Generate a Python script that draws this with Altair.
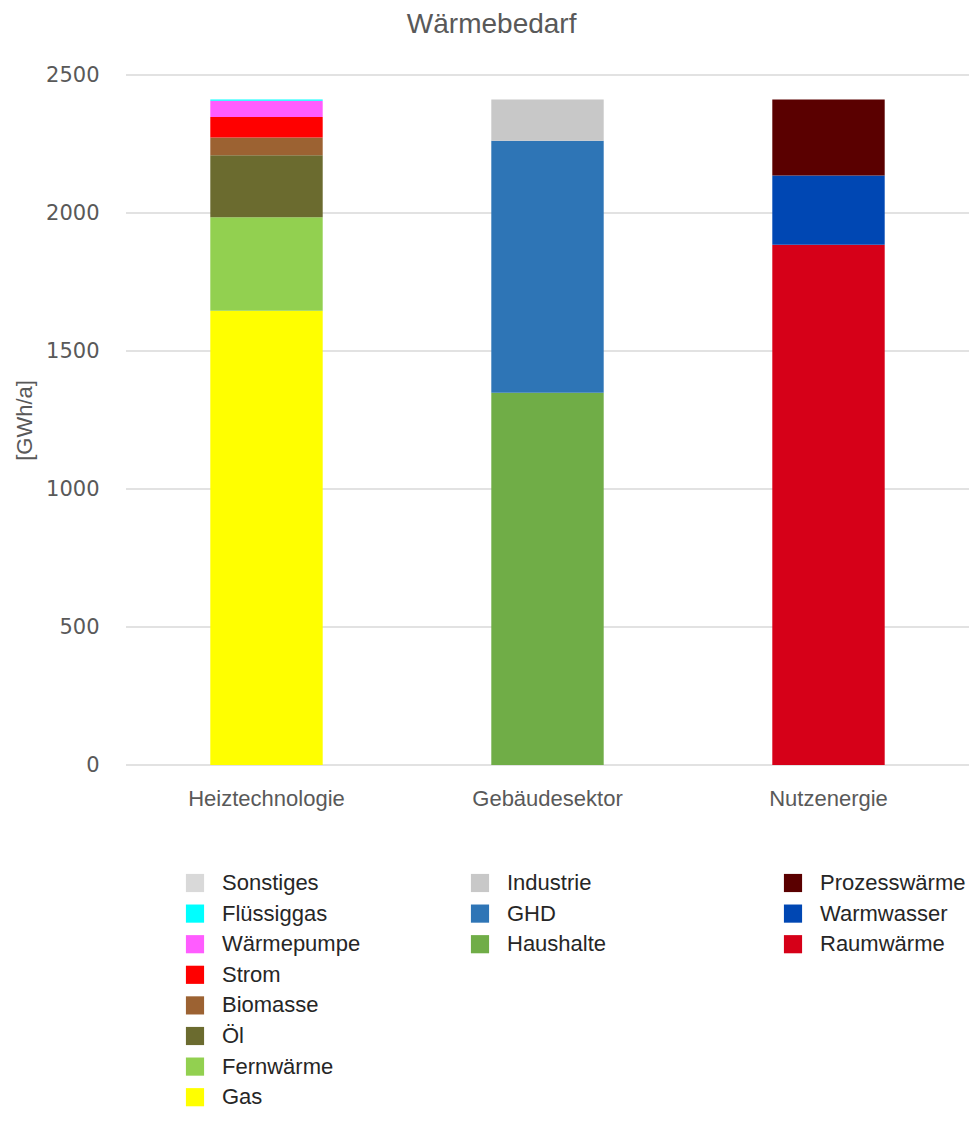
import altair as alt
import pandas as pd

gruppen = ["Heiztechnologie", "Gebäudesektor", "Nutzenergie"]

heiz_komponenten = ["Gas", "Fernwärme", "Öl", "Biomasse", "Strom", "Wärmepumpe", "Flüssiggas", "Sonstiges"]
heiz_werte = [1646, 339, 224, 65, 74, 59, 4, 0]
heiz_farben = ["#FFFF00", "#92D050", "#6B6B2F", "#9C6232", "#FF0000", "#FF5CFF", "#00FFFF", "#D9D9D9"]

geb_komponenten = ["Haushalte", "GHD", "Industrie"]
geb_werte = [1349, 913, 149]
geb_farben = ["#70AD47", "#2E75B6", "#C8C8C8"]

nutz_komponenten = ["Raumwärme", "Warmwasser", "Prozesswärme"]
nutz_werte = [1885, 251, 275]
nutz_farben = ["#D60018", "#0047B3", "#5A0000"]

y_ticks = [0, 500, 1000, 1500, 2000, 2500]

GRAY = "#595959"

x_enc = alt.X("Gruppe:N",
              scale=alt.Scale(domain=gruppen, paddingInner=0.6, paddingOuter=0.3),
              sort=gruppen,
              axis=alt.Axis(labelAngle=0, domain=False, ticks=False, labelPadding=23,
                            labelFont="Liberation Sans", labelFontSize=22, labelColor=GRAY,
                            title=None))

y_axis = alt.Axis(values=y_ticks, format="d", grid=False,
                  domain=False, ticks=False, labelPadding=27,
                  labelFont="DejaVu Sans", labelFontSize=21, labelColor=GRAY,
                  title="[GWh/a]", titleFont="Liberation Sans",
                  titleFontSize=22, titleFontWeight="normal", titleColor=GRAY,
                  titlePadding=9)
y_scale = alt.Scale(domain=[0, 2500], nice=False)

grid = alt.Chart(pd.DataFrame({"Tick": y_ticks})).mark_rule(
    color="#D9D9D9", strokeWidth=1.5
).encode(y=alt.Y("Tick:Q", scale=y_scale, axis=y_axis, title="[GWh/a]"))


def layer(gruppe, komps, werte, farben, lx):
    df = pd.DataFrame({
        "Gruppe": [gruppe] * len(komps),
        "Komponente": komps,
        "Wert": werte,
        "Reihenfolge": list(range(len(komps))),
    })
    return alt.Chart(df).mark_bar().encode(
        x=x_enc,
        y=alt.Y("Wert:Q", stack="zero", scale=y_scale, axis=y_axis, title="[GWh/a]"),
        color=alt.Color("Komponente:N",
                        scale=alt.Scale(domain=komps[::-1], range=farben[::-1]),
                        legend=alt.Legend(orient="none", legendX=lx, legendY=797, title=None,
                                          padding=0, symbolType="square", symbolSize=330,
                                          symbolStrokeWidth=0, symbolOpacity=1,
                                          labelFont="Liberation Sans", labelFontSize=22,
                                          labelColor="#262626", labelOffset=16,
                                          rowPadding=8.6, labelLimit=300)),
        order=alt.Order("Reihenfolge:Q", sort="ascending"),
    )


chart = alt.layer(
    grid,
    layer("Heiztechnologie", heiz_komponenten, heiz_werte, heiz_farben, 58),
    layer("Gebäudesektor", geb_komponenten, geb_werte, geb_farben, 343),
    layer("Nutzenergie", nutz_komponenten, nutz_werte, nutz_farben, 656),
).resolve_scale(color="independent").resolve_legend(color="independent").properties(
    width=843,
    height=690,
    padding={"left": 5, "top": 3, "right": 0, "bottom": 0},
    title=alt.TitleParams("Wärmebedarf", font="Liberation Sans", fontSize=28,
                          fontWeight="normal", color=GRAY, anchor="middle",
                          frame="bounds", offset=25),
).configure_view(stroke=None)

chart.save("out.html", embed_options={"renderer": "svg", "actions": False})
